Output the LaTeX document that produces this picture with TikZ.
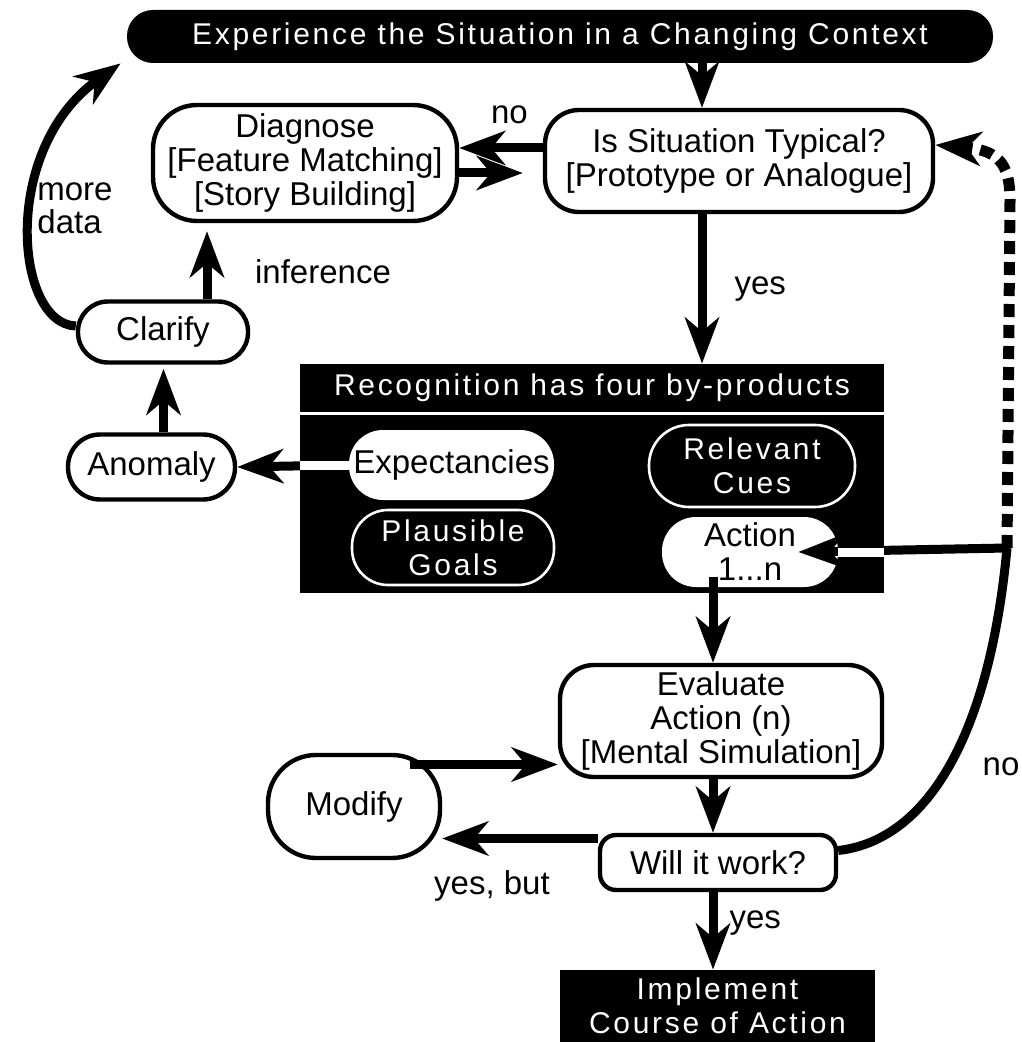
\documentclass[tikz,border=0pt]{standalone}
\usepackage{fontspec}
\setmainfont{Liberation Sans}
\newfontfamily\wfont{Liberation Sans}[LetterSpace=9]
\usetikzlibrary{arrows.meta}

\tikzset{
  rbox/.style={draw, line width=2.2pt, fill=white, align=center,
    font=\fontsize{16.5}{17}\selectfont, inner sep=0pt},
  wbox/.style={fill=black, text=white, align=center,
    font=\wfont\fontsize{15}{17}\selectfont, inner sep=0pt},
  pill/.style={fill=white, align=center,
    font=\fontsize{16.5}{17}\selectfont, inner sep=0pt},
  opill/.style={wbox, draw=white, line width=1.3pt},
  flow/.style={line width=4.5pt, ->},
  lbl/.style={font=\fontsize{16.5}{16.5}\selectfont, align=left, inner sep=0pt},
}

\begin{document}
\begin{tikzpicture}[x=0.5pt, y=-0.5pt,
    >={Stealth[length=23pt, width=17pt, inset=7pt]}]
  \useasboundingbox (0,0) rectangle (1021,1042);

  \coordinate (spineA) at (702,0);
  \coordinate (spineB) at (713,0);
  \coordinate (jn) at (1007,548);
  \coordinate (dtop) at (1010,200);

  \node[wbox, rounded corners=13pt, minimum width=433pt, minimum height=26.5pt]
    (exp) at (560,36.5) {Experience the Situation in a Changing Context};

  \node[rbox, rounded corners=17pt, minimum width=194pt, minimum height=51pt]
    (typ) at (739,161) {Is Situation Typical?\\{}[Prototype or Analogue]};
  \node[rbox, rounded corners=22pt, minimum width=152pt, minimum height=58pt]
    (diag) at (305,163) {Diagnose\\{}[Feature Matching]\\{}[Story Building]};
  \node[rbox, rounded corners=15pt, minimum width=85pt, minimum height=30.5pt]
    (clar) at (163,332) {Clarify};
  \node[rbox, rounded corners=16pt, minimum width=83.5pt, minimum height=32.5pt]
    (anom) at (151.5,467) {Anomaly};

  \node[wbox, minimum width=292pt, minimum height=24pt]
    (head) at (592,388) {Recognition has four by-products};
  \node[fill=black, minimum width=292pt, minimum height=89pt]
    (body) at (592,504) {};

  \node[pill, rounded corners=17pt, minimum width=102.5pt, minimum height=35pt]
    (expc) at (451.5,465) {Expectancies};
  \node[opill, rounded corners=20pt, minimum width=103pt, minimum height=41pt]
    (cues) at (752,466) {Relevant\\Cues};
  \node[opill, rounded corners=18pt, minimum width=101pt, minimum height=37.5pt]
    (goals) at (453,547.5) {Plausible\\Goals};
  \node[pill, rounded corners=17pt, minimum width=88pt, minimum height=35pt]
    (act) at (750,552) {Action\\1...n};

  \node[rbox, rounded corners=17pt, minimum width=161pt, minimum height=56pt]
    (eval) at (721,721) {Evaluate\\Action (n)\\{}[Mental Simulation]};
  \node[rbox, rounded corners=24pt, minimum width=86pt, minimum height=51.5pt]
    (mod) at (354,806.5) {Modify};
  \node[rbox, rounded corners=8pt, minimum width=118pt, minimum height=27.5pt]
    (will) at (718,862.5) {Will it work?};
  \node[wbox, minimum width=157.5pt, minimum height=36pt]
    (impl) at (717.5,1006) {Implement\\Course of Action};

  \draw[flow] (exp.south -| spineA) -- (typ.north -| spineA);
  \draw[flow] ([yshift=6.5pt]typ.west) -- node[lbl, above=10pt, pos=0.4] {no}
    ([yshift=6.5pt]typ.west -| diag.east);
  \draw[flow, shorten >=10pt] ([yshift=-5pt]diag.east) -- ([yshift=-5pt]diag.east -| typ.west);
  \draw[flow] (typ.south -| spineA) -- node[lbl, right=14pt] {yes} (head.north -| spineA);

  \draw[flow, shorten >=4pt] ([xshift=22pt]clar.north) -- ([xshift=22pt]clar.north |- diag.south);
  \node[lbl] (infer) at (323,272) {inference};
  \draw[flow, shorten >=2pt] ([xshift=6pt]anom.north) -- ([xshift=6pt]anom.north |- clar.south);
  \draw[flow] ([yshift=3pt]clar.west) .. controls (15,324) and (0,150) .. ([xshift=-3pt]exp.south west);
  \node[lbl] (mdata) at (75,208) {more\\data};

  \draw[flow] (expc.west) -- (anom.east);
  \draw[white, line width=4.5pt] (expc.west) -- (expc.west -| body.west);

  \draw[line width=4.5pt] ([yshift=6pt]will.east) .. controls (930,840) and (990,730) .. (jn);
  \node[lbl] (nolbl) at (1001,767) {no};
  \draw[flow] (jn) -- ([xshift=-20pt]act.east);
  \draw[white, line width=4.5pt] (act.east -| body.east) -- (act.east);
  \draw[line width=5.5pt, dash pattern=on 6.5pt off 4pt, ->] (jn) -- (dtop)
    .. controls (1010,160) and (995,150) .. ([yshift=8pt]typ.east);

  \draw[flow] ([yshift=5pt]act.south -| spineB) -- (eval.north -| spineB);
  \draw[flow] (eval.south -| spineB) -- (will.north -| spineB);
  \draw[flow] ([xshift=-16pt, yshift=21pt]mod.east) -- ([yshift=21pt]mod.east -| eval.west);
  \draw[flow] ([yshift=12pt]will.west) -- node[lbl, below=14pt, pos=0.68] {yes, but}
    ([yshift=12pt]will.west -| mod.east);
  \draw[flow] (will.south -| spineB) -- node[lbl, right=6pt, pos=0.4] {yes} (impl.north -| spineB);
\end{tikzpicture}
\end{document}
